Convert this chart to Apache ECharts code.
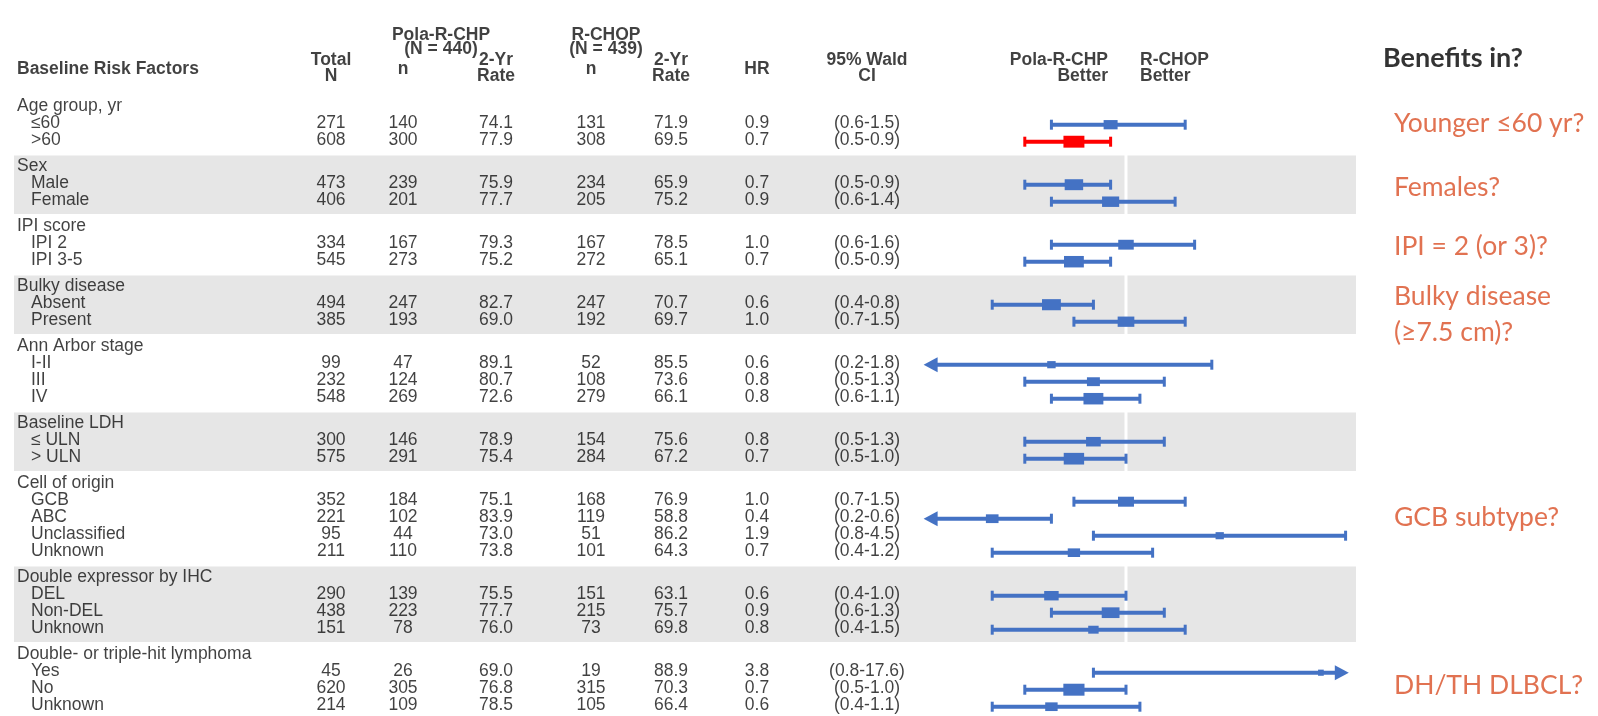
<!DOCTYPE html>
<html>
<head>
<meta charset="utf-8">
<script src="https://cdn.jsdelivr.net/npm/echarts@6/dist/echarts.min.js"></script>
<style>
  html, body { margin: 0; padding: 0; background: #ffffff; }
  #chart { width: 1598px; height: 716px; }
</style>
</head>
<body>
<div id="chart"></div>
<script>
// ---- Subgroup analysis: 2-year rates and hazard ratios ----
const groupNames = [
  'Age group, yr', 'Sex', 'IPI score', 'Bulky disease', 'Ann Arbor stage',
  'Baseline LDH', 'Cell of origin', 'Double expressor by IHC', 'Double- or triple-hit lymphoma'
];
const subgroupLabels = [
  ['≤60', '>60'],
  ['Male', 'Female'],
  ['IPI 2', 'IPI 3-5'],
  ['Absent', 'Present'],
  ['I-II', 'III', 'IV'],
  ['≤ ULN', '> ULN'],
  ['GCB', 'ABC', 'Unclassified', 'Unknown'],
  ['DEL', 'Non-DEL', 'Unknown'],
  ['Yes', 'No', 'Unknown']
];
const totalN    = [271, 608, 473, 406, 334, 545, 494, 385, 99, 232, 548, 300, 575, 352, 221, 95, 211, 290, 438, 151, 45, 620, 214];
const polaN     = [140, 300, 239, 201, 167, 273, 247, 193, 47, 124, 269, 146, 291, 184, 102, 44, 110, 139, 223, 78, 26, 305, 109];
const polaRate  = [74.1, 77.9, 75.9, 77.7, 79.3, 75.2, 82.7, 69.0, 89.1, 80.7, 72.6, 78.9, 75.4, 75.1, 83.9, 73.0, 73.8, 75.5, 77.7, 76.0, 69.0, 76.8, 78.5];
const rchopN    = [131, 308, 234, 205, 167, 272, 247, 192, 52, 108, 279, 154, 284, 168, 119, 51, 101, 151, 215, 73, 19, 315, 105];
const rchopRate = [71.9, 69.5, 65.9, 75.2, 78.5, 65.1, 70.7, 69.7, 85.5, 73.6, 66.1, 75.6, 67.2, 76.9, 58.8, 86.2, 64.3, 63.1, 75.7, 69.8, 88.9, 70.3, 66.4];
const hazardRatio = [0.9, 0.7, 0.7, 0.9, 1.0, 0.7, 0.6, 1.0, 0.6, 0.8, 0.8, 0.8, 0.7, 1.0, 0.4, 1.9, 0.7, 0.6, 0.9, 0.8, 3.8, 0.7, 0.6];
const ciLow     = [0.6, 0.5, 0.5, 0.6, 0.6, 0.5, 0.4, 0.7, 0.2, 0.5, 0.6, 0.5, 0.5, 0.7, 0.2, 0.8, 0.4, 0.4, 0.6, 0.4, 0.8, 0.5, 0.4];
const ciHigh    = [1.5, 0.9, 0.9, 1.4, 1.6, 0.9, 0.8, 1.5, 1.8, 1.3, 1.1, 1.3, 1.0, 1.5, 0.6, 4.5, 1.2, 1.0, 1.3, 1.5, 17.6, 1.0, 1.1];

const armHeaders = ['Pola-R-CHP\n(N = 440)', 'R-CHOP\n(N = 439)'];
const columnHeaders = ['Total\nN', 'n', '2-Yr\nRate', 'n', '2-Yr\nRate', 'HR', '95% Wald\nCI'];
const favourLabels = ['Pola-R-CHP\nBetter', 'R-CHOP\nBetter'];
const sideTitle = 'Benefits in?';
const sideNotes = ['Younger ≤60 yr?', 'Females?', 'IPI = 2 (or 3)?', 'Bulky disease\n(≥7.5 cm)?', 'GCB subtype?', 'DH/TH DLBCL?'];

// ---- layout ----
const W = 1598, H = 716;
const ROW_PX = 17, TOP_PX = 106, GROUP_GAP = 9 / 17;
const U_MIN = -TOP_PX / ROW_PX, U_MAX = (H - TOP_PX) / ROW_PX;
const pxToU = px => (px - TOP_PX) / ROW_PX;
const X_MIN = 0.25, X_MAX = 4.6;
const FOREST_LEFT = 923.6, FOREST_WIDTH = 425.2;
const COL = { head: 17, sub: 31, total: 331, polaN: 403, polaRate: 496, rchopN: 591, rchopRate: 671, hr: 757, ci: 867 };
const NOTE_Y = [123, 187, 246, 314, 517, 685];
const FONT = '"Liberation Sans", Arial, Helvetica, sans-serif';
const NOTE_FONT = 'Lato, "Open Sans", sans-serif';
const BLUE = '#4472C4', RED = '#FF0000', BAND = '#E6E6E6', NOTE = '#DA4F26', INK = '#111111';
const FS = 17.5;
const HIGHLIGHT = new Set(['>60']);

// ---- row positions ----
const rows = [];
const groupSpans = [];
let r = 0, k = 0;
groupNames.forEach((g, gi) => {
  const off = gi * GROUP_GAP;
  const headU = r + off;
  rows.push({ kind: 'head', text: g, u: headU });
  r++;
  subgroupLabels[gi].forEach(s => {
    rows.push({ kind: 'sub', text: s, u: r + off, i: k++ });
    r++;
  });
  groupSpans.push([headU, r - 1 + off]);
});
const subRows = rows.filter(d => d.kind === 'sub');

// ---- text series helper ----
function textSeries(items, o) {
  o = o || {};
  return {
    type: 'scatter', xAxisIndex: 0, yAxisIndex: 0, silent: true, z: 6,
    symbolSize: 1, itemStyle: { color: 'rgba(0,0,0,0)' },
    label: {
      show: true, position: 'inside',
      formatter: p => p.name,
      color: o.color || INK,
      fontFamily: o.fontFamily || FONT,
      fontSize: o.fontSize || FS,
      fontWeight: o.fontWeight || 'normal',
      lineHeight: o.lineHeight || FS,
      align: o.align || 'center',
      verticalAlign: 'middle'
    },
    data: items.map(it => ({ name: it.text, value: [it.x, it.u] }))
  };
}

// ---- table cells ----
const labelItems = rows.map(d => ({ text: d.text, x: d.kind === 'head' ? COL.head : COL.sub, u: d.u }));
const numberItems = [];
subRows.forEach(d => {
  const i = d.i;
  numberItems.push({ text: String(totalN[i]), x: COL.total, u: d.u });
  numberItems.push({ text: String(polaN[i]), x: COL.polaN, u: d.u });
  numberItems.push({ text: polaRate[i].toFixed(1), x: COL.polaRate, u: d.u });
  numberItems.push({ text: String(rchopN[i]), x: COL.rchopN, u: d.u });
  numberItems.push({ text: rchopRate[i].toFixed(1), x: COL.rchopRate, u: d.u });
  numberItems.push({ text: hazardRatio[i].toFixed(1), x: COL.hr, u: d.u });
  numberItems.push({ text: '(' + ciLow[i].toFixed(1) + '-' + ciHigh[i].toFixed(1) + ')', x: COL.ci, u: d.u });
});

const colXs = [COL.total, COL.polaN, COL.polaRate, COL.rchopN, COL.rchopRate, COL.hr, COL.ci];
const headerItems = columnHeaders.map((t, j) => ({ text: t, x: colXs[j], u: pxToU(t.indexOf('\n') >= 0 ? 68.5 : 69) }));
const armItems = [
  { text: armHeaders[0], x: 441, u: pxToU(42) },
  { text: armHeaders[1], x: 606, u: pxToU(42) }
];

// ---- gray bands for alternate groups ----
const bandData = groupSpans
  .filter((s, gi) => gi % 2 === 1)
  .map(s => [{ coord: [14, s[0] - 0.62] }, { coord: [1356, s[1] + 0.82] }]);

// ---- forest marks ----
const MARK_SHIFT = 0.1;
const forestData = subRows.map(d => {
  const i = d.i;
  return [hazardRatio[i], d.u + MARK_SHIFT, ciLow[i], ciHigh[i], totalN[i], HIGHLIGHT.has(d.text) ? 1 : 0];
});

function renderForest(params, api) {
  const hr = api.value(0), u = api.value(1), lo = api.value(2), hi = api.value(3), n = api.value(4);
  const color = api.value(5) ? RED : BLUE;
  const lowArrow = lo < X_MIN, highArrow = hi > X_MAX;
  const pL = api.coord([Math.max(lo, X_MIN), u]);
  const pH = api.coord([Math.min(hi, X_MAX), u]);
  const pM = api.coord([hr, u]);
  const y = pM[1];
  const AL = 14, AH = 7.5, CAP = 5;
  const children = [];
  children.push({
    type: 'line',
    shape: { x1: lowArrow ? pL[0] + AL - 1 : pL[0], y1: y, x2: highArrow ? pH[0] - AL + 1 : pH[0], y2: y },
    style: { stroke: color, lineWidth: 4 }
  });
  if (lowArrow) {
    children.push({ type: 'polygon', shape: { points: [[pL[0], y], [pL[0] + AL, y - AH], [pL[0] + AL, y + AH]] }, style: { fill: color } });
  } else {
    children.push({ type: 'rect', shape: { x: pL[0] - 1.5, y: y - CAP, width: 3, height: CAP * 2 }, style: { fill: color } });
  }
  if (highArrow) {
    children.push({ type: 'polygon', shape: { points: [[pH[0], y], [pH[0] - AL, y - AH], [pH[0] - AL, y + AH]] }, style: { fill: color } });
  } else {
    children.push({ type: 'rect', shape: { x: pH[0] - 1.5, y: y - CAP, width: 3, height: CAP * 2 }, style: { fill: color } });
  }
  const s = Math.sqrt(n);
  const w = 0.85 * s, h = 0.32 * s + 4;
  children.push({ type: 'rect', shape: { x: pM[0] - w / 2, y: y - h / 2, width: w, height: h }, style: { fill: color } });
  return { type: 'group', children: children };
}

const firstU = rows[0].u, lastU = rows[rows.length - 1].u;

const option = {
  animation: false,
  backgroundColor: '#ffffff',
  grid: [
    { left: 0, top: 0, width: W, height: H },
    { left: FOREST_LEFT, top: 0, width: FOREST_WIDTH, height: H }
  ],
  xAxis: [
    { type: 'value', gridIndex: 0, min: 0, max: W, show: false },
    { type: 'log', logBase: 10, gridIndex: 1, min: X_MIN, max: X_MAX, show: false }
  ],
  yAxis: [
    { type: 'value', gridIndex: 0, inverse: true, min: U_MIN, max: U_MAX, show: false },
    { type: 'value', gridIndex: 1, inverse: true, min: U_MIN, max: U_MAX, show: false }
  ],
  series: [
    {
      type: 'scatter', xAxisIndex: 0, yAxisIndex: 0, z: 1, silent: true,
      symbolSize: 0, data: [],
      markArea: { silent: true, itemStyle: { color: BAND }, data: bandData }
    },
    {
      type: 'line', xAxisIndex: 1, yAxisIndex: 1, z: 2, silent: true,
      symbol: 'none', lineStyle: { color: '#ffffff', width: 3 },
      data: [[1, firstU - 0.62], [1, lastU + 0.82]]
    },
    {
      type: 'custom', xAxisIndex: 1, yAxisIndex: 1, z: 3, silent: true, clip: false,
      encode: { x: 0, y: 1 },
      renderItem: renderForest,
      data: forestData
    },
    textSeries(labelItems, { align: 'left' }),
    textSeries(numberItems, {}),
    textSeries(headerItems, { fontWeight: 'bold', lineHeight: 16 }),
    textSeries(armItems, { fontWeight: 'bold', lineHeight: 14 }),
    textSeries([{ text: 'Baseline Risk Factors', x: COL.head, u: pxToU(69) }], { fontWeight: 'bold', align: 'left' }),
    textSeries([{ text: favourLabels[0], x: 1108, u: pxToU(68.5) }], { fontWeight: 'bold', align: 'right', lineHeight: 16 }),
    textSeries([{ text: favourLabels[1], x: 1140, u: pxToU(68.5) }], { fontWeight: 'bold', align: 'left', lineHeight: 16 }),
    textSeries([{ text: sideTitle, x: 1383, u: pxToU(58) }], { fontFamily: NOTE_FONT, fontWeight: 'bold', fontSize: 27, align: 'left', color: '#000000' }),
    textSeries(sideNotes.map((t, j) => ({ text: t, x: 1394, u: pxToU(NOTE_Y[j]) })),
      { fontFamily: NOTE_FONT, fontSize: 26.5, align: 'left', color: NOTE, lineHeight: 36 })
  ]
};

const chart = echarts.init(document.getElementById('chart'), null, { renderer: 'canvas' });
chart.setOption(option);
</script>
</body>
</html>
